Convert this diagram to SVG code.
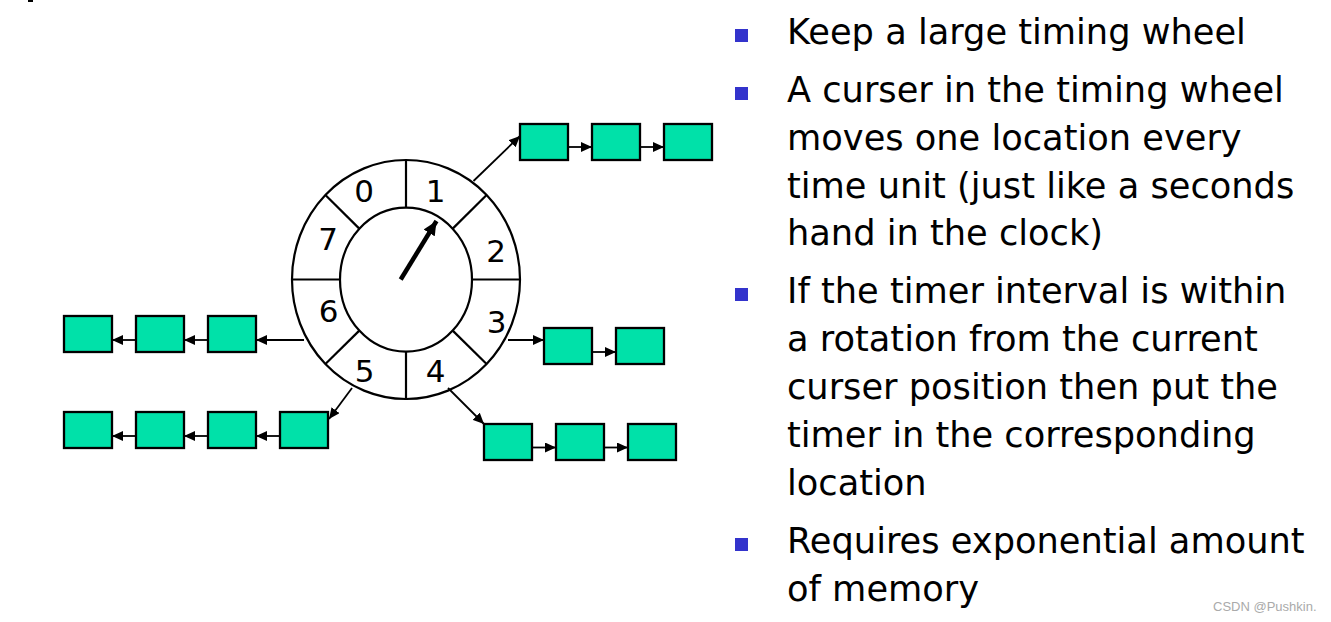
<svg xmlns="http://www.w3.org/2000/svg" width="1331" height="622" viewBox="0 0 1331 622">
<defs>
<style>
.box{fill:#00E1A9;stroke:#000;stroke-width:2.3}
.ln{stroke:#000;stroke-width:1.8;fill:none}
.w{fill:none;stroke:#000;stroke-width:2.2}
.num{font-family:"DejaVu Sans",Verdana,sans-serif;font-size:31px;fill:#000;text-anchor:middle}
.t{font-family:"DejaVu Sans",Verdana,sans-serif;font-size:35.2px;fill:#000}
.b{fill:#3333CC}
</style>
<marker id="ah" viewBox="0 0 10 10" refX="10" refY="5" markerWidth="11" markerHeight="10" markerUnits="userSpaceOnUse" orient="auto" preserveAspectRatio="none"><path d="M0,0 L10,5 L0,10 z" fill="#000"/></marker>
<marker id="ah2" viewBox="0 0 10 10" refX="10" refY="5" markerWidth="14" markerHeight="13" markerUnits="userSpaceOnUse" orient="auto" preserveAspectRatio="none"><path d="M0,0 L10,5 L0,10 z" fill="#000"/></marker>
</defs>
<rect width="1331" height="622" fill="#fff"/>
<rect x="28" y="0" width="5" height="2" fill="#000"/>

<g id="wheel">
<ellipse class="w" cx="406" cy="279.5" rx="114" ry="119.5"/>
<ellipse class="w" cx="406" cy="279.7" rx="66" ry="72"/>
<line class="w" x1="406" y1="160" x2="406" y2="207.7"/>
<line class="w" x1="406" y1="351.7" x2="406" y2="399"/>
<line class="w" x1="292" y1="279.5" x2="340" y2="279.5"/>
<line class="w" x1="472" y1="279.5" x2="520" y2="279.5"/>
<line class="w" x1="325.4" y1="195" x2="359.3" y2="228.6"/>
<line class="w" x1="486.6" y1="195" x2="452.7" y2="228.6"/>
<line class="w" x1="325.4" y1="364" x2="359.3" y2="330.6"/>
<line class="w" x1="486.6" y1="364" x2="452.7" y2="330.6"/>
<text class="num" x="364" y="202">0</text>
<text class="num" x="435.5" y="202">1</text>
<text class="num" x="496" y="262">2</text>
<text class="num" x="496.5" y="333">3</text>
<text class="num" x="435.5" y="382">4</text>
<text class="num" x="364.5" y="382">5</text>
<text class="num" x="328.5" y="322">6</text>
<text class="num" x="328" y="250">7</text>
<line x1="400.7" y1="279.5" x2="436.5" y2="221" stroke="#000" stroke-width="4.5" marker-end="url(#ah2)"/>
</g>

<g id="list1">
<rect class="box" x="520" y="124" width="48" height="36"/>
<rect class="box" x="592" y="124" width="48" height="36"/>
<rect class="box" x="664" y="124" width="48" height="36"/>
</g>
<g id="list3">
<rect class="box" x="544" y="328" width="48" height="36"/>
<rect class="box" x="616" y="328" width="48" height="36"/>
</g>
<g id="list4">
<rect class="box" x="484" y="424" width="48" height="36"/>
<rect class="box" x="556" y="424" width="48" height="36"/>
<rect class="box" x="628" y="424" width="48" height="36"/>
</g>
<g id="list6">
<rect class="box" x="64" y="316" width="48" height="36"/>
<rect class="box" x="136" y="316" width="48" height="36"/>
<rect class="box" x="208" y="316" width="48" height="36"/>
</g>
<g id="list5">
<rect class="box" x="64" y="412" width="48" height="36"/>
<rect class="box" x="136" y="412" width="48" height="36"/>
<rect class="box" x="208" y="412" width="48" height="36"/>
<rect class="box" x="280" y="412" width="48" height="36"/>
</g>

<g id="connectors">
<line class="ln" x1="473.5" y1="181" x2="520" y2="136" marker-end="url(#ah)"/>
<line class="ln" x1="568" y1="147" x2="592" y2="147" marker-end="url(#ah)"/>
<line class="ln" x1="640" y1="147" x2="664" y2="147" marker-end="url(#ah)"/>
<line class="ln" x1="508" y1="340" x2="544" y2="340" marker-end="url(#ah)"/>
<line class="ln" x1="592" y1="352" x2="616" y2="352" marker-end="url(#ah)"/>
<line class="ln" x1="448" y1="388" x2="484" y2="424" marker-end="url(#ah)"/>
<line class="ln" x1="532" y1="447.5" x2="556" y2="447.5" marker-end="url(#ah)"/>
<line class="ln" x1="604" y1="447.5" x2="628" y2="447.5" marker-end="url(#ah)"/>
<line class="ln" x1="304" y1="340" x2="256" y2="340" marker-end="url(#ah)"/>
<line class="ln" x1="208" y1="340" x2="184" y2="340" marker-end="url(#ah)"/>
<line class="ln" x1="136" y1="340" x2="112" y2="340" marker-end="url(#ah)"/>
<line class="ln" x1="352" y1="388" x2="329" y2="419" marker-end="url(#ah)"/>
<line class="ln" x1="280" y1="436" x2="256" y2="436" marker-end="url(#ah)"/>
<line class="ln" x1="208" y1="436" x2="184" y2="436" marker-end="url(#ah)"/>
<line class="ln" x1="136" y1="436" x2="112" y2="436" marker-end="url(#ah)"/>
</g>

<g id="bullets">
<rect class="b" x="735" y="29" width="13" height="13"/>
<rect class="b" x="735" y="87" width="13" height="13"/>
<rect class="b" x="735" y="288" width="13" height="13"/>
<rect class="b" x="735" y="538" width="13" height="13"/>
<text class="t" x="787" y="44">Keep a large timing wheel</text>
<text class="t" x="787" y="102">A curser in the timing wheel</text>
<text class="t" x="787" y="150">moves one location every</text>
<text class="t" x="787" y="198">time unit (just like a seconds</text>
<text class="t" x="787" y="245">hand in the clock)</text>
<text class="t" x="787" y="303">If the timer interval is within</text>
<text class="t" x="787" y="351">a rotation from the current</text>
<text class="t" x="787" y="399">curser position then put the</text>
<text class="t" x="787" y="447">timer in the corresponding</text>
<text class="t" x="787" y="495">location</text>
<text class="t" x="787" y="553">Requires exponential amount</text>
<text class="t" x="787" y="601">of memory</text>
</g>
<text x="1213" y="611" font-family="'Liberation Sans',Arial,sans-serif" font-size="13" fill="#aaa">CSDN @Pushkin.</text>
</svg>
